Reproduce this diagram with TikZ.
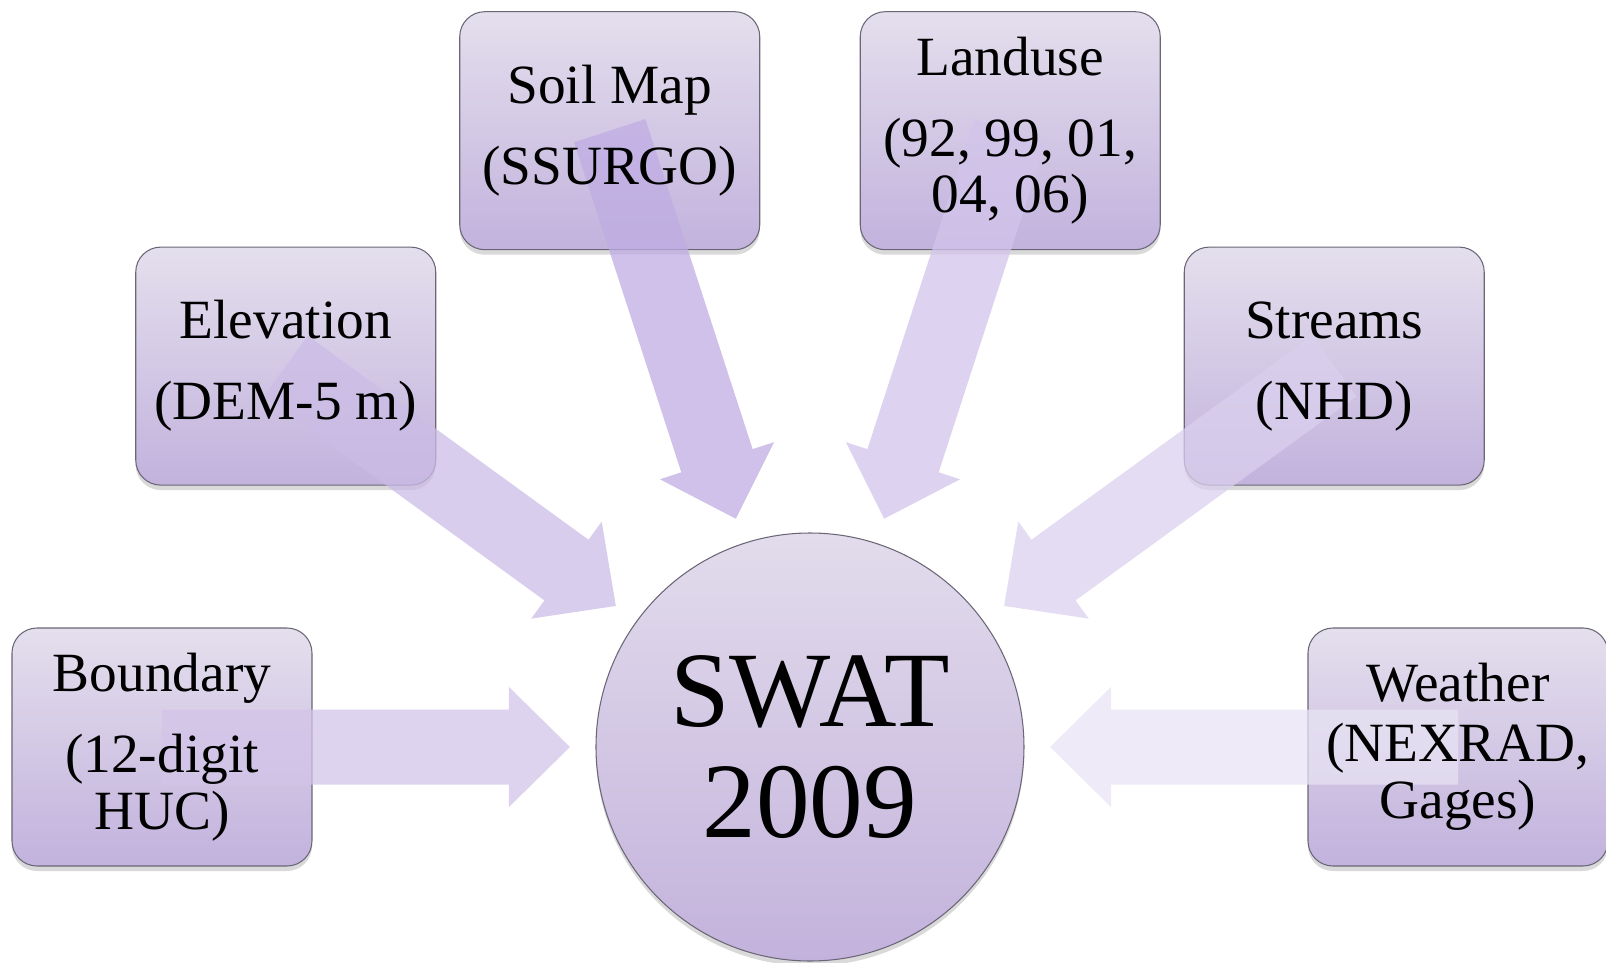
\documentclass[tikz,border=0pt]{standalone}
\usepackage{fontspec}
\setmainfont{Liberation Serif}
\usepackage{tikz}
\usetikzlibrary{calc,shadows}

\definecolor{boxtop}{HTML}{E4DFED}
\definecolor{boxbot}{HTML}{C2B2DD}
\definecolor{hubtop}{HTML}{E2DCEC}
\definecolor{hubbot}{HTML}{C3B2DC}
\definecolor{edgegray}{HTML}{6B6676}
\definecolor{arrowa}{HTML}{D2C4E8}
\definecolor{arrowb}{HTML}{CBBCE6}
\definecolor{arrowc}{HTML}{BFACE3}
\definecolor{arrowd}{HTML}{D2C4EB}
\definecolor{arrowe}{HTML}{DAD0EE}
\definecolor{arrowf}{HTML}{E8E3F4}

\begin{document}
\begin{tikzpicture}[
    databox/.style={rectangle, rounded corners=0.5cm, draw=edgegray, line width=0.6pt,
        top color=boxtop, bottom color=boxbot, minimum width=6cm, minimum height=4.76cm,
        inner sep=0pt,
        drop shadow={shadow xshift=0pt, shadow yshift=-0.1cm, fill=black, opacity=0.15}},
    boxtext/.style={align=center, inner sep=0pt, font=\fontsize{31.5}{32.4}\selectfont},
    hub/.style={circle, draw=edgegray, line width=0.6pt, top color=hubtop, bottom color=hubbot,
        minimum size=8.56cm, inner sep=0pt, align=center, font=\fontsize{61}{63.5}\selectfont,
        drop shadow={shadow xshift=0pt, shadow yshift=-0.1cm, fill=black, opacity=0.15}},
    fatarrow/.style={fill=#1, fill opacity=0.75}
]
    \useasboundingbox (-16.2, -4.3) rectangle (15.92, 14.94);

    \node (swat) at (0, 0) [hub] {SWAT\\2009};

    \node (boundary) at (180:12.96) [databox] {};
    \node (elevation) at (144:12.96) [databox] {};
    \node (soil) at (108:12.96) [databox] {};
    \node (landuse) at (72:12.96) [databox] {};
    \node (streams) at (36:12.96) [databox] {};
    \node (weather) at (0:12.96) [databox] {};

    \foreach \nm/\col in {boundary/arrowa, elevation/arrowb, soil/arrowc,
                          landuse/arrowd, streams/arrowe, weather/arrowf} {
        \coordinate (\nm-tip) at ($(swat.center)!4.8cm!(\nm.center)$);
        \coordinate (\nm-base) at ($(\nm-tip)!1.22cm!(\nm.center)$);
        \fill[fatarrow=\col] ($(\nm.center)!0.75cm!90:(\nm-tip)$)
            -- ($(\nm-base)!0.75cm!90:(\nm-tip)$)
            -- ($(\nm-base)!1.2cm!90:(\nm-tip)$)
            -- (\nm-tip)
            -- ($(\nm-base)!1.2cm!-90:(\nm-tip)$)
            -- ($(\nm-base)!0.75cm!-90:(\nm-tip)$)
            -- ($(\nm.center)!0.75cm!-90:(\nm-tip)$)
            -- cycle;
    }

    \node (boundary-text) at (boundary) [boxtext] {Boundary\\[0.48cm](12-digit\\HUC)};
    \node (elevation-text) at (elevation) [boxtext] {Elevation\\[0.48cm](DEM-5 m)};
    \node (soil-text) at (soil) [boxtext] {Soil Map\\[0.48cm](SSURGO)};
    \node (landuse-text) at (landuse) [boxtext] {Landuse\\[0.48cm](92, 99, 01,\\04, 06)};
    \node (streams-text) at (streams) [boxtext] {Streams\\[0.48cm](NHD)};
    \node (weather-text) at (weather) [boxtext] {Weather\\[2pt](NEXRAD,\\Gages)};
\end{tikzpicture}
\end{document}
